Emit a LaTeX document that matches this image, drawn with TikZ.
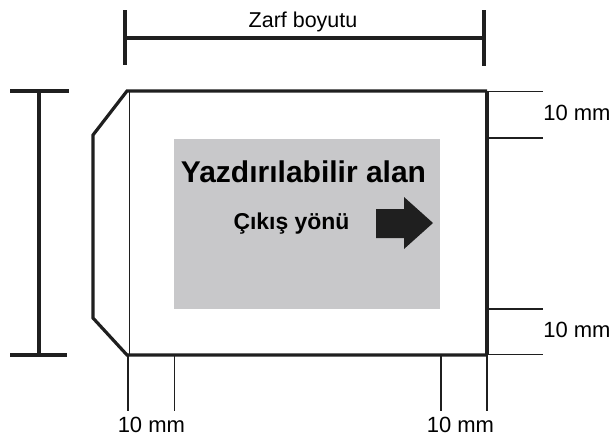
\documentclass[tikz,border=0pt]{standalone}
\usepackage{fontspec}
\setmainfont{Liberation Sans}
\begin{document}
\begin{tikzpicture}[x=0.75pt,y=-0.75pt,
  thickline/.style={line width=2.4pt,color=black!88},
  thinline/.style={line width=1.1pt,color=black!88},
  hair/.style={line width=0.7pt,color=black!88},
  lbl/.style={inner sep=0pt,anchor=base,font=\fontsize{16.5pt}{18pt}\selectfont},
  lblw/.style={inner sep=0pt,anchor=base west,font=\fontsize{16.5pt}{18pt}\selectfont}]
\useasboundingbox (0,0) rectangle (614,440);
% printable area
\fill[fill={rgb,255:red,200;green,200;blue,202}] (174,139) rectangle (440,309);
\node[inner sep=0pt,anchor=base,font=\bfseries\fontsize{22.5pt}{24pt}\selectfont] (area) at (303.5,182) {Yazdırılabilir alan};
\node[inner sep=0pt,anchor=base,font=\bfseries\fontsize{17.2pt}{19pt}\selectfont] (dir) at (291.5,229) {Çıkış yönü};
\fill[black!88] (376,209) -- (404,209) -- (404,197) -- (433,223) -- (404,249) -- (404,238) -- (376,238) -- cycle;
% envelope
\draw[hair] (129.5,91) -- (129.5,355);
\draw[thickline,line join=miter] (487,91) -- (127,91) -- (93,135) -- (93,318) -- (127,355) -- (487,355);
\draw[thickline] (487,91) -- (487,355);
% right dimension lines
\draw[thinline] (487,91.5) -- (543,91.5);
\draw[thinline] (487,138) -- (543,138);
\draw[thinline] (487,309) -- (543,309);
\draw[thinline] (487,354.5) -- (543,354.5);
\node[lblw] (r1) at (543,120) {10 mm};
\node[lblw] (r2) at (543,337) {10 mm};
% bottom dimension lines
\draw[thinline] (128,355) -- (128,411);
\draw[thinline] (174.5,355) -- (174.5,411);
\draw[thinline] (441,355) -- (441,411);
\draw[thinline] (487,355) -- (487,411);
\node[lblw] (b1) at (117.5,432) {10 mm};
\node[lblw] (b2) at (426.5,432) {10 mm};
% top dimension
\draw[thickline] (125,38) -- (484,38);
\draw[thickline] (125,10) -- (125,65);
\draw[thickline] (484,10) -- (484,66);
\node[lbl,font=\fontsize{16.1pt}{18pt}\selectfont] (size) at (303,27) {Zarf boyutu};
% left dimension
\draw[thickline] (39,91) -- (39,355);
\draw[thickline] (10,91) -- (69,91);
\draw[thickline] (10,355) -- (67,355);
\end{tikzpicture}
\end{document}
